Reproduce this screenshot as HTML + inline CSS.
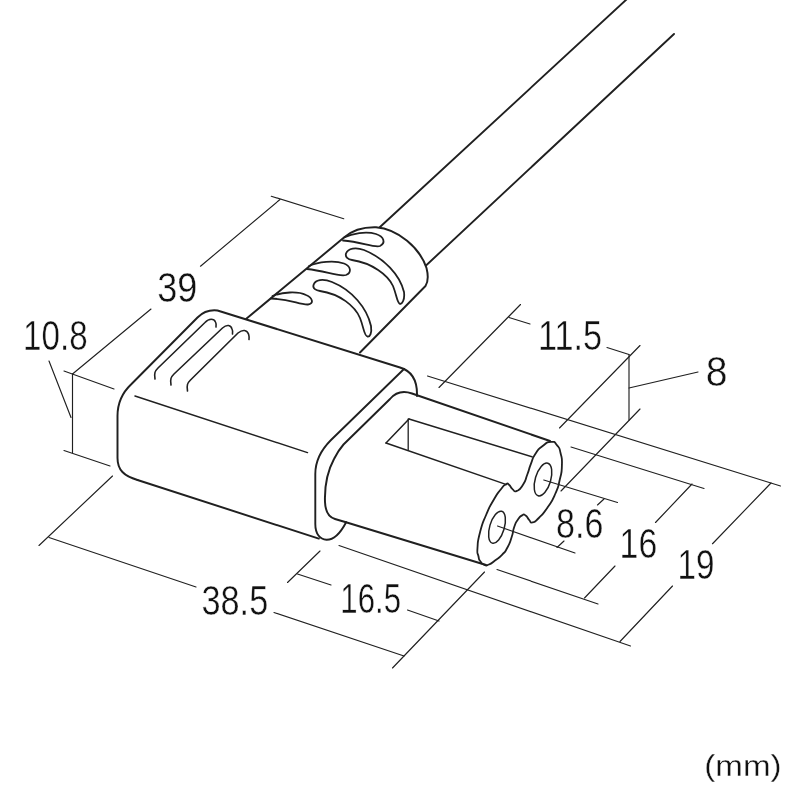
<!DOCTYPE html>
<html><head><meta charset="utf-8"><title>dimensions</title>
<style>
html,body{margin:0;padding:0;background:#fff;}
svg{display:block}
#art{opacity:0.999}
svg line,svg path,svg ellipse{stroke:#202020;stroke-linecap:round;stroke-linejoin:round}
text.d{font-family:"Liberation Sans",sans-serif;fill:#111;stroke:#fff;stroke-width:0.45px;paint-order:fill stroke;}
text.m{font-family:"Liberation Sans",sans-serif;fill:#111;stroke:#fff;stroke-width:0.3px;paint-order:fill stroke;}
</style></head><body>
<svg width="800" height="800" viewBox="0 0 800 800">
<rect width="800" height="800" fill="#fff" stroke="none"/>
<g id="art">
<line x1="627" y1="-1" x2="380" y2="227" stroke-width="1.9"/>
<line x1="674" y1="34" x2="426" y2="265.5" stroke-width="1.9"/>
<path d="M246,319 L344,237.5 C352,230.5 364,227 376,227.3 C398,229 420,248 426.5,268 C428.5,276 428,282 425.5,286 L360,352.5" stroke-width="1.95" fill="none"/>
<path d="M344,237.5 C352,233.5 366,231 376,234 C384,236.5 386,243 380,246 C374,248 362,242 343,240.5" stroke-width="1.8" fill="none"/>
<path d="M309,266 C318,262 334,260 344,263.5 C351,266 352,273 346,275 C338,277 326,271 307,269" stroke-width="1.8" fill="none"/>
<path d="M272.5,296 C282,292 298,291 306,295 C313,298 314,304 308,304.5 C300,305 290,299 271,298.5" stroke-width="1.8" fill="none"/>
<path d="M346,253.5 C348,248 356,247 364,250 C384,258 400,275 404,292 C405,300 402,304 400,304 C397,303 397,296 393,286 C388,275 372,263 352,260 C348,259.5 345,257 346,253.5Z" stroke-width="1.8" fill="none"/>
<path d="M313.5,285 C315,279.5 323,278.5 332,282 C352,290 367,308 371,326 C372,333 370,337 367.5,336.5 C364,336 364,328 360,318 C355,306 340,294 320,291 C316,290.5 312.5,288.5 313.5,285Z" stroke-width="1.8" fill="none"/>
<path d="M137.5,480 C124,476 117.5,470 117.5,458 L117.5,416 C117.5,404 122,393 131,384.5 L197.5,317.5 C203,312 209,309.5 217.5,310.5 L400,367.5 C412,371 417.5,380 417,396" stroke-width="1.95" fill="none"/>
<path d="M137.5,480 L318.8,538.6" stroke-width="1.95" fill="none"/>
<line x1="135" y1="396" x2="307.5" y2="452.6" stroke-width="1.5"/>
<path d="M404,369 L331,440 C322,449 315.3,460 315.3,474 L315.3,524 C315.3,534 320,539.5 326.5,539.8 C335,540 341,532 346,522.5" stroke-width="1.9" fill="none"/>
<path d="M155,379 C154,373 155,371 158,368 L205,322.5 C209,318 214,318.5 215.5,322 C216.5,324 216.5,325 216,327" stroke-width="1.6" fill="none"/>
<path d="M171,385 C170,379 171,377 174,374 L222.5,328 C227,324 231,325 232,329 C233,331 233,332 232.5,334" stroke-width="1.6" fill="none"/>
<path d="M187.5,391 C186.5,385 187.5,383 190.5,380 L238,333 C243,329 247,330 248.5,334 C249,336 249.5,337 249,339.5" stroke-width="1.6" fill="none"/>
<path d="M346,522.3 L335,519 C328.5,517 325.3,511 325,502 C324.5,488 327,472 334,459 C337,453 340,448.5 343.5,444.5 L390,399 C395,393 402,390 412,393.5 L550,441" stroke-width="1.95" fill="none"/>
<path d="M346,522.3 L486,565" stroke-width="1.95" fill="none"/>
<path d="M551.00,441.90 C555.93,441.60 553.90,441.60 557.10,445.40 C560.30,449.20 559.00,446.60 560.60,453.30 C562.20,460.00 562.17,456.77 561.90,465.50 C561.63,474.23 561.97,470.17 559.80,479.50 C557.63,488.83 559.50,484.17 555.40,493.50 C551.30,502.83 553.03,499.33 547.50,507.50 C541.97,515.67 543.77,513.03 538.80,518.00 C533.83,522.97 535.83,521.80 532.60,522.40 C529.37,523.00 531.43,522.13 529.10,519.80 C526.77,517.47 527.93,516.87 525.60,515.40 C523.27,513.93 524.70,513.93 522.10,515.40 C519.50,516.87 520.40,516.00 517.80,519.80 C515.20,523.60 516.37,520.97 514.30,526.80 C512.23,532.63 513.93,530.30 511.60,537.30 C509.27,544.30 510.50,541.97 507.30,547.80 C504.10,553.63 506.10,550.57 502.00,554.80 C497.90,559.03 499.33,557.27 495.00,560.50 C490.67,563.73 492.50,563.07 489.00,564.50 C485.50,565.93 487.33,565.80 484.50,564.80 C481.67,563.80 482.53,564.43 480.50,561.50 C478.47,558.57 479.40,560.57 478.40,556.00 C477.40,551.43 476.93,555.80 477.50,547.80 C478.07,539.80 477.17,543.10 480.10,532.00 C483.03,520.90 481.90,525.00 486.30,514.50 C490.70,504.00 488.63,508.67 493.30,500.50 C497.97,492.33 496.10,495.37 500.30,490.00 C504.50,484.63 503.00,486.13 505.90,484.40 C508.80,482.67 506.80,483.23 509.00,484.80 C511.20,486.37 509.87,487.07 512.50,489.10 C515.13,491.13 513.40,492.33 516.90,490.90 C520.40,489.47 519.50,490.33 523.00,484.80 C526.50,479.27 524.77,481.30 527.40,474.30 C530.03,467.30 528.27,470.53 530.90,463.80 C533.53,457.07 531.50,459.93 535.30,454.10 C539.10,448.27 537.07,450.37 542.30,446.30 C547.53,442.23 546.07,442.20 551.00,441.90Z" stroke-width="1.8" fill="none"/>
<ellipse cx="543" cy="479.5" rx="7.7" ry="17" transform="rotate(16.5 543 479.5)" stroke-width="1.5" fill="none"/>
<ellipse cx="497" cy="527.2" rx="7.3" ry="16.6" transform="rotate(16.5 497 527.2)" stroke-width="1.5" fill="none"/>
<line x1="409" y1="419" x2="532" y2="456.8" stroke-width="1.5"/>
<line x1="386" y1="443" x2="505.9" y2="484.4" stroke-width="1.5"/>
<path d="M386,443 L409,419" stroke-width="1.5" fill="none"/>
<line x1="408.2" y1="419" x2="408.2" y2="449.5" stroke-width="1.3"/>
<line x1="151" y1="309" x2="72.5" y2="374" stroke-width="1.15"/>
<line x1="72.5" y1="374" x2="72.5" y2="452.5" stroke-width="1.15"/>
<line x1="64" y1="371" x2="114" y2="389" stroke-width="1.15"/>
<line x1="64" y1="450.5" x2="110" y2="466" stroke-width="1.15"/>
<line x1="49" y1="361" x2="71" y2="417.5" stroke-width="1.15"/>
<line x1="271.25" y1="196.25" x2="343.75" y2="218.75" stroke-width="1.15"/>
<line x1="280" y1="199.5" x2="200.5" y2="266.25" stroke-width="1.15"/>
<line x1="112.5" y1="476" x2="39" y2="545.5" stroke-width="1.15"/>
<line x1="49" y1="537.5" x2="196" y2="587" stroke-width="1.15"/>
<line x1="274" y1="612.5" x2="404" y2="656" stroke-width="1.15"/>
<line x1="484.5" y1="572" x2="392.5" y2="668" stroke-width="1.15"/>
<line x1="320" y1="551" x2="287.5" y2="582.5" stroke-width="1.15"/>
<line x1="297.5" y1="574" x2="331" y2="585" stroke-width="1.15"/>
<line x1="407.5" y1="610" x2="439" y2="621" stroke-width="1.15"/>
<line x1="339" y1="545.5" x2="630.5" y2="646" stroke-width="1.15"/>
<line x1="771" y1="483" x2="712.5" y2="543.75" stroke-width="1.15"/>
<line x1="672.5" y1="586" x2="620" y2="641.5" stroke-width="1.15"/>
<line x1="497" y1="569.5" x2="598" y2="604" stroke-width="1.15"/>
<line x1="692" y1="484" x2="655.5" y2="522.5" stroke-width="1.15"/>
<line x1="615" y1="566" x2="584.5" y2="598" stroke-width="1.15"/>
<line x1="543.75" y1="480" x2="617.5" y2="502.5" stroke-width="1.15"/>
<line x1="497.5" y1="526" x2="575" y2="553" stroke-width="1.15"/>
<line x1="604" y1="499" x2="597.5" y2="505" stroke-width="1.15"/>
<line x1="564" y1="541" x2="557" y2="547.5" stroke-width="1.15"/>
<line x1="520.5" y1="304.5" x2="439" y2="387.5" stroke-width="1.15"/>
<line x1="509" y1="317.5" x2="530" y2="324" stroke-width="1.15"/>
<line x1="607" y1="347.5" x2="629" y2="354.5" stroke-width="1.15"/>
<line x1="640" y1="345.5" x2="559.5" y2="428" stroke-width="1.15"/>
<line x1="629" y1="354.5" x2="629" y2="420" stroke-width="1.15"/>
<line x1="640" y1="409" x2="561" y2="491" stroke-width="1.15"/>
<line x1="629" y1="388" x2="698" y2="372" stroke-width="1.15"/>
<line x1="427.5" y1="376" x2="780.5" y2="486" stroke-width="1.15"/>
<line x1="571" y1="447" x2="704" y2="488.5" stroke-width="1.15"/>
<text class="d" transform="translate(157.3 302) scale(0.838 1)" font-size="43" text-anchor="start">39</text>
<text class="d" transform="translate(23.1 349.5) scale(0.771 1)" font-size="43" text-anchor="start">10.8</text>
<text class="d" transform="translate(538.0 349.5) scale(0.797 1)" font-size="43" text-anchor="start">11.5</text>
<text class="d" transform="translate(705.8 386) scale(0.911 1)" font-size="43" text-anchor="start">8</text>
<text class="d" transform="translate(556.0 537.5) scale(0.792 1)" font-size="43" text-anchor="start">8.6</text>
<text class="d" transform="translate(619.6 558) scale(0.786 1)" font-size="43" text-anchor="start">16</text>
<text class="d" transform="translate(677.6 578.5) scale(0.774 1)" font-size="43" text-anchor="start">19</text>
<text class="d" transform="translate(201.5 614.5) scale(0.797 1)" font-size="43" text-anchor="start">38.5</text>
<text class="d" transform="translate(340.3 613) scale(0.725 1)" font-size="43" text-anchor="start">16.5</text>
<text class="m" transform="translate(704.3 775.5) scale(1.125 1)" font-size="29.5">(mm)</text>
</g>
</svg>
</body></html>
